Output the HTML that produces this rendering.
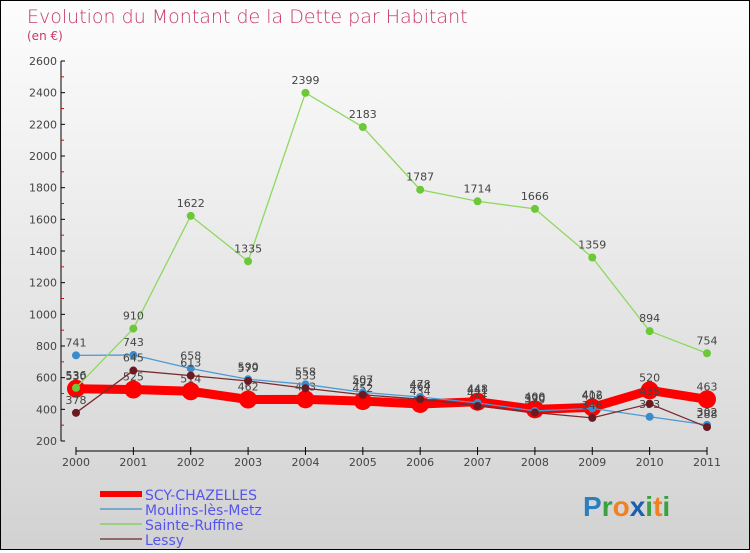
<!DOCTYPE html>
<html><head><meta charset="utf-8"><style>
body{margin:0;}
#wrap{width:748px;height:548px;border:1px solid #000;background:linear-gradient(#fdfdfd,#d2d2d2);position:relative;font-family:"DejaVu Sans","Liberation Sans",sans-serif;}
</style></head><body>
<div id="wrap">
<svg id="chart" width="748" height="548">
<text x="26" y="22" font-size="19" fill="#c8386e" font-weight="200">Evolution du Montant de la Dette par Habitant</text>
<text x="26" y="39" font-size="12" fill="#c8386e">(en €)</text>
<g id="axes"></g><g id="series"></g><g id="legend"></g>
<text x="582" y="515" font-size="28" font-weight="bold" font-family="Liberation Sans,sans-serif"><tspan fill="#2a7fc0">P</tspan><tspan fill="#3aa040">r</tspan><tspan fill="#f08020">o</tspan><tspan fill="#1a5fb0">x</tspan><tspan fill="#3aa040">i</tspan><tspan fill="#f08020">t</tspan><tspan fill="#3aa040">i</tspan></text>
</svg>
</div>
<script>
const years=[2000,2001,2002,2003,2004,2005,2006,2007,2008,2009,2010,2011];
const yTicks=[200,400,600,800,1000,1200,1400,1600,1800,2000,2200,2400,2600];
const scy=[530,525,514,462,463,452,434,448,400,412,520,463];
const moulins=[741,743,658,590,558,507,478,441,390,406,353,302];
const ruffine=[536,910,1622,1335,2399,2183,1787,1714,1666,1359,894,754];
const lessy=[378,645,613,579,533,492,464,421,379,346,435,288];
const NS="http://www.w3.org/2000/svg";
const xS=i=>75+i*(631/11);
const yS=v=>440-(v-200)*(380/2400);
function mk(tag,attrs,parent,text){const e=document.createElementNS(NS,tag);for(const k in attrs)e.setAttribute(k,attrs[k]);if(text!==undefined)e.textContent=text;parent.appendChild(e);return e;}
const ax=document.getElementById('axes');
let a=mk('line',{x1:60,y1:60,x2:60,y2:440,stroke:'#000'},ax);


yTicks.forEach((t,i)=>{
  mk('line',{x1:60,y1:yS(t),x2:64,y2:yS(t),stroke:'#000'},ax);
  if(i<yTicks.length-1) mk('line',{x1:60,y1:yS(t+100),x2:63,y2:yS(t+100),stroke:'#e00'},ax);
  const l=mk('text',{x:56,y:yS(t)+4,'font-size':11,'text-anchor':'end',fill:'#444'},ax,t);
  
  
});
a=mk('line',{x1:75,y1:450,x2:706,y2:450,stroke:'#000'},ax);


years.forEach((y,i)=>{
  mk('line',{x1:xS(i),y1:446,x2:xS(i),y2:454,stroke:'#000'},ax);
  const l=mk('text',{x:xS(i),y:465,'font-size':11,'text-anchor':'middle',fill:'#444'},ax,y);
  
  
});
const sg=document.getElementById('series');
function draw(vals,color,w,r,name,dotColor){
  const g=mk('g',{},sg);
  
  
  mk('polyline',{points:vals.map((v,i)=>xS(i)+','+yS(v)).join(' '),fill:'none',stroke:color,'stroke-width':w},g);
  vals.forEach((v,i)=>{
    const c=mk('circle',{cx:xS(i),cy:yS(v),r:r,fill:dotColor},g);
    
    
    const t=mk('text',{x:xS(i),y:yS(v)-9,'font-size':11,'text-anchor':'middle',fill:'#444'},g,v);
    
    
  });
}
draw(scy,'#f00',9,9,'scy-chazelles','#f00');
draw(moulins,'#4a9ad4',1.3,4,'moulins-les-metz','#3a8ccc');
draw(ruffine,'#8fd860',1.3,4,'sainte-ruffine','#6cc838');
draw(lessy,'#7a2a30',1.3,4,'lessy','#6a1a20');
const lg=document.getElementById('legend');
const items=[['SCY-CHAZELLES','#f00',6,'legend-scy-chazelles'],['Moulins-lès-Metz','#7aa8cc',2,'legend-moulins-les-metz'],['Sainte-Ruffine','#9ad080',2,'legend-sainte-ruffine'],['Lessy','#906868',2,'legend-lessy']];
items.forEach((it,i)=>{
  const y=493+i*15;
  const g=mk('g',{},lg);
  
  
  mk('line',{x1:99,y1:y,x2:141,y2:y,stroke:it[1],'stroke-width':it[2]},g);
  mk('text',{x:144,y:y+6,'font-size':14,fill:'#5555ee'},g,it[0]);
});
</script>
</body></html>
